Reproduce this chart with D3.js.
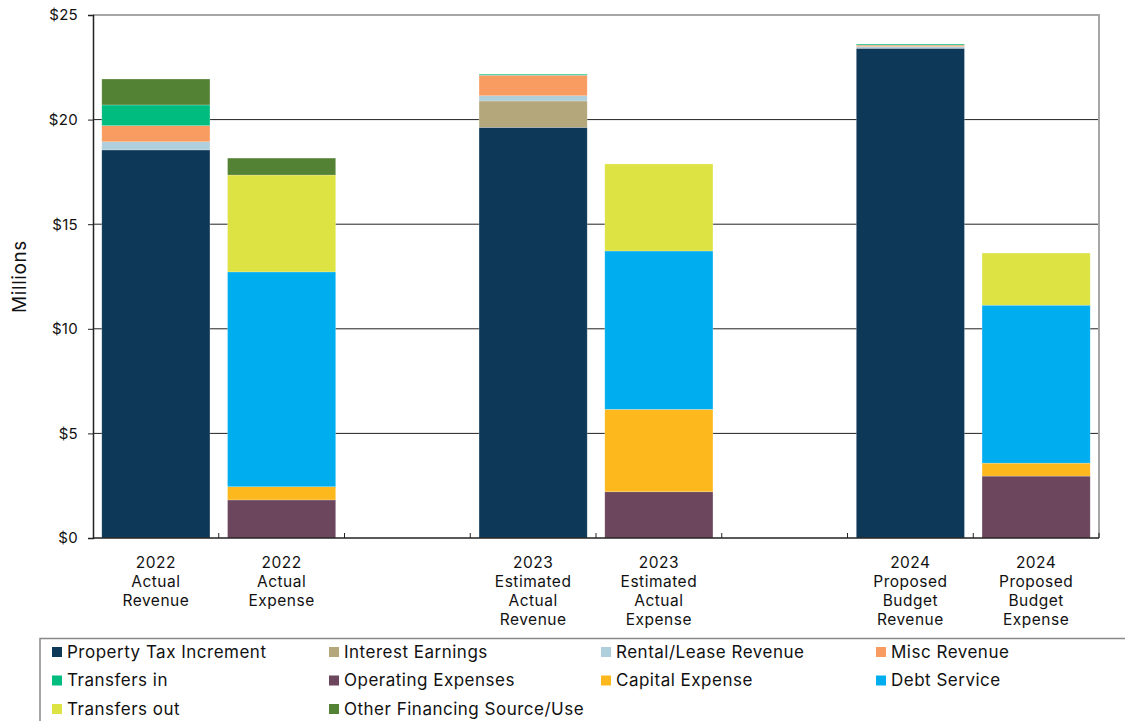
<!DOCTYPE html>
<html lang="en">
<head>
<meta charset="utf-8">
<title>Revenue and Expense</title>
<script src="https://d3js.org/d3.v7.min.js"></script>
<style>
  body { margin: 0; background: #fff; }
  text { font-family: Inter, "Open Sans", sans-serif; fill: #111; }
</style>
</head>
<body>
<div id="main"></div>
<script>
// slots along the x axis, empty strings are the blank gaps
var categories = [
  ["2022", "Actual", "Revenue"],
  ["2022", "Actual", "Expense"],
  [],
  ["2023", "Estimated", "Actual", "Revenue"],
  ["2023", "Estimated", "Actual", "Expense"],
  [],
  ["2024", "Proposed", "Budget", "Revenue"],
  ["2024", "Proposed", "Budget", "Expense"]
];

var seriesNames = [
  "Property Tax Increment", "Interest Earnings", "Rental/Lease Revenue", "Misc Revenue",
  "Transfers in", "Operating Expenses", "Capital Expense", "Debt Service",
  "Transfers out", "Other Financing Source/Use"
];

var propertyTax   = [18.55, 0, 0, 19.63, 0, 0, 23.41, 0];
var interest      = [0, 0, 0, 1.26, 0, 0, 0, 0];
var rental        = [0.39, 0, 0, 0.25, 0, 0, 0.08, 0];
var miscRevenue   = [0.77, 0, 0, 0.98, 0, 0, 0.07, 0];
var transfersIn   = [0.99, 0, 0, 0.05, 0, 0, 0.05, 0];
var operating     = [0, 1.82, 0, 0, 2.21, 0, 0, 2.96];
var capital       = [0, 0.63, 0, 0, 3.94, 0, 0, 0.62];
var debtService   = [0, 10.27, 0, 0, 7.57, 0, 0, 7.55];
var transfersOut  = [0, 4.63, 0, 0, 4.16, 0, 0, 2.49];
var otherFinance  = [1.24, 0.81, 0, 0, 0, 0, 0, 0];

var yTicks = [0, 5, 10, 15, 20, 25];

var colors = ["#0d3858", "#b3a77b", "#b0cfdc", "#f99c62", "#00bc7e",
              "#6b465c", "#fdb81e", "#00aeef", "#dce343", "#548235"];

var allSeries = [propertyTax, interest, rental, miscRevenue, transfersIn,
                 operating, capital, debtService, transfersOut, otherFinance];

var table = categories.map(function(c, i) {
  var row = { idx: i };
  seriesNames.forEach(function(n, j) { row[n] = allSeries[j][i]; });
  return row;
});

var width = 1125, height = 721;
var margin = { left: 93, right: 26, top: 15, bottom: 183 };

var svg = d3.select("#main").append("svg")
  .attr("width", width).attr("height", height);

var x = d3.scaleBand()
  .domain(d3.range(categories.length))
  .range([margin.left, width - margin.right])
  .paddingInner(0.14).paddingOuter(0.07);

var y = d3.scaleLinear()
  .domain([0, 25])
  .range([height - margin.bottom, margin.top]);

var color = d3.scaleOrdinal().domain(seriesNames).range(colors);

// gridlines
svg.append("g")
  .selectAll("line")
  .data(yTicks.slice(1, -1))
  .enter().append("line")
  .attr("x1", margin.left).attr("x2", width - margin.right)
  .attr("y1", function(d) { return y(d); })
  .attr("y2", function(d) { return y(d); })
  .attr("stroke", "#222").attr("stroke-width", 1);

// plot frame, top and right in grey
svg.append("path")
  .attr("d", "M" + margin.left + "," + y(25) + "H" + (width - margin.right) + "V" + y(0))
  .attr("fill", "none").attr("stroke", "#a6a6a6").attr("stroke-width", 2);

var stack = d3.stack().keys(seriesNames);
var layers = stack(table);

svg.append("g")
  .selectAll("g")
  .data(layers)
  .enter().append("g")
  .attr("fill", function(d) { return color(d.key); })
  .selectAll("rect")
  .data(function(d) { return d.filter(function(p) { return p[1] - p[0] > 0; }); })
  .enter().append("rect")
  .attr("x", function(d) { return x(d.data.idx); })
  .attr("width", x.bandwidth())
  .attr("y", function(d) { return y(d[1]); })
  .attr("height", function(d) { return y(d[0]) - y(d[1]); })
  .attr("stroke", "#ffffff").attr("stroke-opacity", 0.35).attr("stroke-width", 0.6);

// y axis
var yAxis = svg.append("g")
  .attr("transform", "translate(" + margin.left + ",0)")
  .call(d3.axisLeft(y).tickValues(yTicks).tickSize(5).tickPadding(10)
    .tickFormat(function(d) { return "$" + d; }));
yAxis.select(".domain").attr("stroke", "#222").attr("stroke-width", 1.5);
yAxis.selectAll(".tick line").attr("stroke", "#222");
yAxis.selectAll("text").style("font-size", "15px").style("letter-spacing", "0.3px").attr("fill", "#111");

svg.append("text")
  .attr("transform", "translate(26," + ((y(0) + y(25)) / 2) + ") rotate(-90)")
  .attr("text-anchor", "middle")
  .style("font-size", "19px")
  .style("letter-spacing", "0.6px")
  .text("Millions");

// x axis with ticks between slots
var bounds = d3.range(1, categories.length + 1).map(function(i) {
  return margin.left + i * (width - margin.right - margin.left) / categories.length;
});
svg.append("line")
  .attr("x1", margin.left).attr("x2", width - margin.right)
  .attr("y1", y(0)).attr("y2", y(0))
  .attr("stroke", "#222").attr("stroke-width", 1.5);
svg.append("g").selectAll("line")
  .data(bounds)
  .enter().append("line")
  .attr("x1", function(d) { return d; }).attr("x2", function(d) { return d; })
  .attr("y1", y(0)).attr("y2", y(0) - 5)
  .attr("stroke", "#222");

var labels = svg.append("g").selectAll("text")
  .data(categories)
  .enter().append("text")
  .attr("text-anchor", "middle")
  .style("font-size", "15.5px")
  .style("letter-spacing", "0.5px")
  .attr("x", function(d, i) { return x(i) + x.bandwidth() / 2; })
  .attr("y", y(0) + 30);
labels.selectAll("tspan")
  .data(function(d) { return d; })
  .enter().append("tspan")
  .attr("x", function() { return this.parentNode.getAttribute("x"); })
  .attr("dy", function(d, i) { return i === 0 ? 0 : 19; })
  .text(function(d) { return d; });

// legend
svg.append("path")
  .attr("d", "M40," + height + "V638.5H" + width)
  .attr("fill", "none").attr("stroke", "#888").attr("stroke-width", 1.5);

var legendCols = [52, 329, 601, 876];
var legend = svg.append("g").selectAll("g")
  .data(seriesNames)
  .enter().append("g")
  .attr("transform", function(d, i) {
    return "translate(" + legendCols[i % 4] + "," + (652 + Math.floor(i / 4) * 28.5) + ")";
  });
legend.append("rect")
  .attr("x", 0).attr("y", -5).attr("width", 10).attr("height", 10)
  .attr("fill", function(d) { return color(d); });
legend.append("text")
  .attr("x", 15).attr("dy", "0.35em")
  .style("font-size", "17px")
  .style("letter-spacing", "0.5px")
  .text(function(d) { return d; });
</script>
</body>
</html>
